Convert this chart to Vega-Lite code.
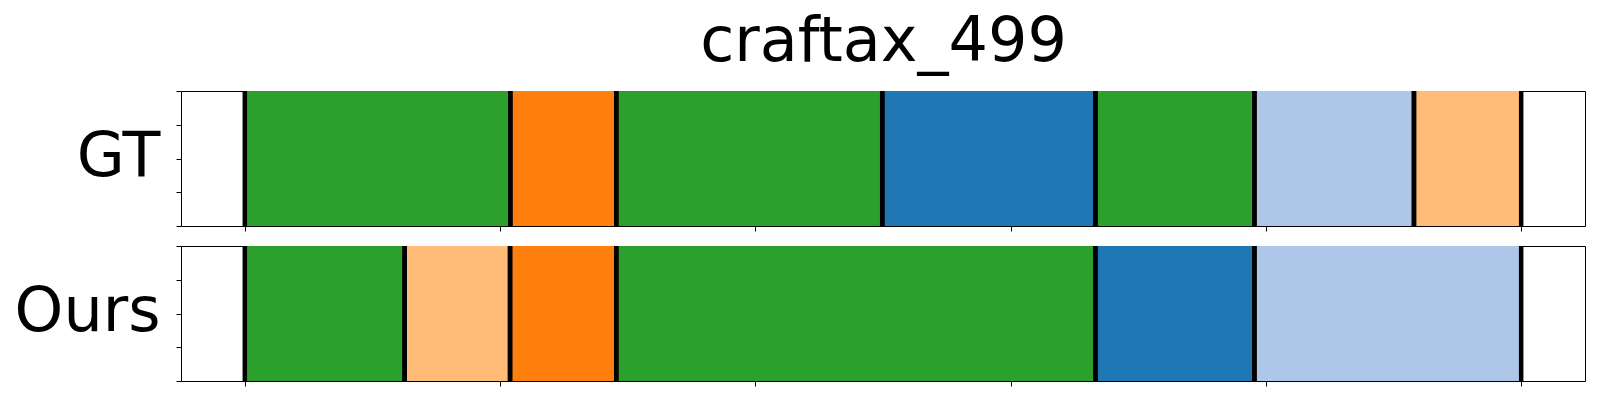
{
  "$schema": "https://vega.github.io/schema/vega-lite/v6.json",
  "padding": {"left": 13, "top": 11, "right": 14, "bottom": 0},
  "background": "white",
  "datasets": {
    "gt": [
      {"start": 0, "end": 104, "label": "green"},
      {"start": 104, "end": 145.5, "label": "orange"},
      {"start": 145.5, "end": 249.7, "label": "green"},
      {"start": 249.7, "end": 333.2, "label": "blue"},
      {"start": 333.2, "end": 395.5, "label": "green"},
      {"start": 395.5, "end": 458, "label": "lightblue"},
      {"start": 458, "end": 500, "label": "peach"}
    ],
    "ours": [
      {"start": 0, "end": 62.6, "label": "green"},
      {"start": 62.6, "end": 103.9, "label": "peach"},
      {"start": 103.9, "end": 145.5, "label": "orange"},
      {"start": 145.5, "end": 333.2, "label": "green"},
      {"start": 333.2, "end": 395.5, "label": "blue"},
      {"start": 395.5, "end": 500, "label": "lightblue"}
    ]
  },
  "title": {
    "text": "craftax_499",
    "fontSize": 62,
    "font": "DejaVu Sans",
    "fontWeight": "normal",
    "color": "black",
    "anchor": "middle",
    "offset": 14,
    "dx": 84
  },
  "config": {
    "view": {"stroke": "black", "strokeWidth": 1},
    "axis": {
      "domain": false,
      "labels": false,
      "grid": false,
      "ticks": true,
      "tickColor": "black",
      "tickWidth": 1,
      "tickSize": 5
    }
  },
  "spacing": 20,
  "bounds": "flush",
  "vconcat": [
    {
      "width": 1404,
      "height": 135,
      "data": {"name": "gt"},
      "encoding": {
        "x": {"field": "start", "type": "quantitative", "scale": {"domain": [-25, 525], "nice": false, "zero": false}, "axis": {"values": [0, 100, 200, 300, 400, 500], "title": null}},
        "y": {"datum": 0, "type": "quantitative", "scale": {"domain": [0, 1], "nice": false}, "axis": {"values": [0, 0.25, 0.5, 0.75, 1], "title": "GT", "titleAngle": 0, "titleFontSize": 62, "titleFont": "DejaVu Sans", "titleFontWeight": "normal", "titleColor": "black", "titleAlign": "right", "titleBaseline": "alphabetic", "titleX": -21, "titleY": 84}},
        "y2": {"datum": 1}
      },
      "layer": [
        {
          "mark": {"type": "rect"},
          "encoding": {
            "x2": {"field": "end"},
            "color": {"field": "label", "type": "nominal", "legend": null, "scale": {"domain": ["green", "orange", "blue", "lightblue", "peach"], "range": ["#2ca02c", "#ff7f0e", "#1f77b4", "#aec7e8", "#ffbb78"]}}
          }
        },
        {
          "mark": {"type": "rule", "color": "black", "strokeWidth": 4.5},
          "encoding": {}
        },
        {
          "mark": {"type": "rule", "color": "black", "strokeWidth": 4.5},
          "encoding": {
            "x": {"field": "end", "type": "quantitative"}
          }
        }
      ]
    },
    {
      "width": 1404,
      "height": 135,
      "data": {"name": "ours"},
      "encoding": {
        "x": {"field": "start", "type": "quantitative", "scale": {"domain": [-25, 525], "nice": false, "zero": false}, "axis": {"values": [0, 100, 200, 300, 400, 500], "title": null}},
        "y": {"datum": 0, "type": "quantitative", "scale": {"domain": [0, 1], "nice": false}, "axis": {"values": [0, 0.25, 0.5, 0.75, 1], "title": "Ours", "titleAngle": 0, "titleFontSize": 62, "titleFont": "DejaVu Sans", "titleFontWeight": "normal", "titleColor": "black", "titleAlign": "right", "titleBaseline": "alphabetic", "titleX": -21, "titleY": 84}},
        "y2": {"datum": 1}
      },
      "layer": [
        {
          "mark": {"type": "rect"},
          "encoding": {
            "x2": {"field": "end"},
            "color": {"field": "label", "type": "nominal", "legend": null, "scale": {"domain": ["green", "orange", "blue", "lightblue", "peach"], "range": ["#2ca02c", "#ff7f0e", "#1f77b4", "#aec7e8", "#ffbb78"]}}
          }
        },
        {
          "mark": {"type": "rule", "color": "black", "strokeWidth": 4.5},
          "encoding": {}
        },
        {
          "mark": {"type": "rule", "color": "black", "strokeWidth": 4.5},
          "encoding": {
            "x": {"field": "end", "type": "quantitative"}
          }
        }
      ]
    }
  ]
}
